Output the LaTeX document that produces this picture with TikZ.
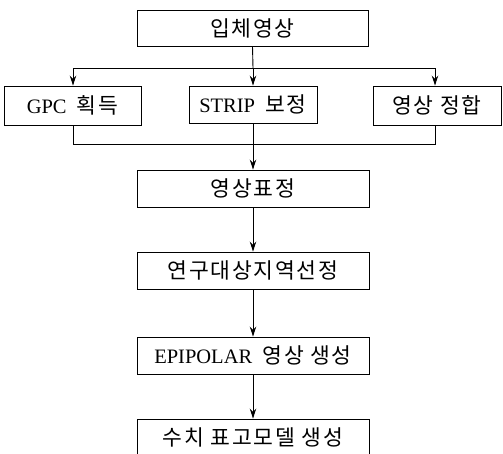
\documentclass[tikz,border=0pt]{standalone}
\usepackage{fontspec}
\setmainfont{Liberation Serif}
\newfontfamily\krfont[LetterSpace=8,Scale=1.05]{Noto Sans CJK KR}
\newcommand{\kt}[1]{{\krfont #1}}
\usetikzlibrary{arrows.meta}
\begin{document}
\begin{tikzpicture}[x=1pt,y=-1pt,
  box/.style={draw,line width=0.9pt,minimum width=#1,minimum height=37pt,inner sep=0pt,
    font=\fontsize{20.5}{24}\selectfont},
  box/.default=232pt,
  conn/.style={line width=0.9pt},
  arr/.style={conn,-{Stealth[length=10pt,width=6.5pt]}}]
\useasboundingbox (0,0) rectangle (503,453);
\clip (0,0) rectangle (503,453);
\node[box=231pt,minimum height=36pt] (top) at (252.5,28) {\kt{입체영상}};
\node[box=137pt,minimum height=39pt] (gpc) at (72.5,105.5) {GPC\enspace\kt{획득}};
\node[box=128pt] (strip) at (253,104.5) {STRIP\enspace\kt{보정}};
\node[box=128pt,minimum height=39pt] (match) at (437,105.5) {\kt{영상 정합}};
\node[box] (ori) at (253,188.5) {\kt{영상표정}};
\node[box] (area) at (253,270.5) {\kt{연구대상지역선정}};
\node[box] (epi) at (253,355.5) {EPIPOLAR\enspace\kt{영상 생성}};
\node[box] (dem) at (253,437.5) {\kt{수치 표고모델 생성}};
\coordinate (sl) at (73,68);
\coordinate (sm) at (253,68);
\coordinate (sr) at (435,68);
\coordinate (jl) at (73,144);
\coordinate (jm) at (253,144);
\coordinate (jr) at (435,144);
\draw[conn] (top.south) -- (sm);
\draw[conn] (sl) -- (sr);
\draw[arr] (sl) -- (sl |- gpc.north);
\draw[arr] (sm) -- (strip.north);
\draw[arr] (sr) -- (sr |- match.north);
\draw[conn] (sl |- gpc.south) -- (jl) -- (jr) -- (sr |- match.south);
\draw[arr] (strip.south) -- (ori.north);
\draw[arr] (ori.south) -- (area.north);
\draw[arr] (area.south) -- (epi.north);
\draw[arr] (epi.south) -- (dem.north);
\end{tikzpicture}
\end{document}
